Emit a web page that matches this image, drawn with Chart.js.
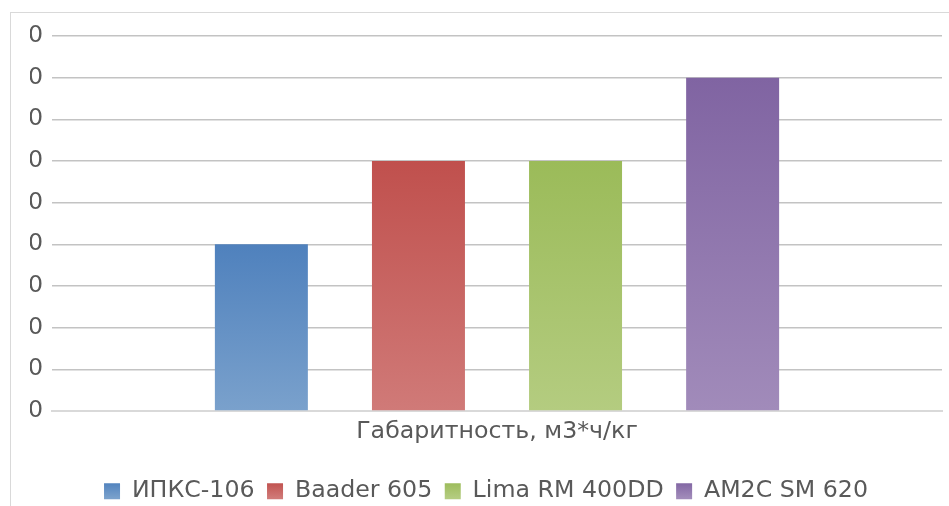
<!DOCTYPE html>
<html>
<head>
<meta charset="utf-8">
<script src="https://cdn.jsdelivr.net/npm/chart.js@4.4.1/dist/chart.umd.min.js"></script>
<style>
    html, body { margin: 0; padding: 0; background: #ffffff; overflow: hidden; }
    #wrap { position: relative; width: 949px; height: 506px; overflow: hidden; }
    #frame {
        position: absolute; left: 10px; top: 12px; width: 960px; height: 520px;
        border: 1.5px solid #d9d9d9; box-sizing: border-box;
    }
    canvas { position: absolute; left: 0; top: 0; }
</style>
</head>
<body>
<div id="wrap">
    <div id="frame"></div>
    <canvas id="chart" width="949" height="513"></canvas>
</div>
<script>
const categories = ['Габаритность, м3*ч/кг'];
const seriesNames = ['ИПКС-106', 'Baader 605', 'Lima RM 400DD', 'AM2C SM 620'];
const seriesValues = [[0.0004], [0.0006], [0.0006], [0.0008]];
const topColors = ['#4f81bd', '#c0504d', '#9bbb59', '#8064a2'];
const bottomColors = ['#7aa1cc', '#d07a78', '#b4cc80', '#a18bba'];

const fontSize = 23.7;

Chart.defaults.font.family = "'DejaVu Sans', sans-serif";
Chart.defaults.color = '#595959';

function barGradient(context, i) {
    const chart = context.chart;
    const area = chart.chartArea;
    if (!area) return topColors[i];
    const topY = chart.scales.y.getPixelForValue(context.raw);
    const g = chart.ctx.createLinearGradient(0, topY, 0, area.bottom);
    g.addColorStop(0, topColors[i]);
    g.addColorStop(1, bottomColors[i]);
    return g;
}

const ctx = document.getElementById('chart').getContext('2d');

new Chart(ctx, {
    type: 'bar',
    data: {
        labels: categories,
        datasets: seriesNames.map(function(name, i) {
            return {
                label: name,
                data: seriesValues[i],
                backgroundColor: function(c) { return barGradient(c, i); },
                borderWidth: 0,
                barPercentage: 0.592,
                categoryPercentage: 0.706
            };
        })
    },
    options: {
        responsive: false,
        animation: false,
        layout: { padding: { top: 36, right: 7, bottom: 0, left: 30 } },
        plugins: {
            tooltip: { enabled: false },
            legend: {
                position: 'bottom',
                labels: {
                    boxWidth: 16,
                    boxHeight: 16,
                    padding: 12.5,
                    color: '#595959',
                    font: { size: fontSize },
                    generateLabels: function(chart) {
                        return seriesNames.map(function(name, i) {
                            const g = chart.ctx.createLinearGradient(0, 482, 0, 498);
                            g.addColorStop(0, topColors[i]);
                            g.addColorStop(1, bottomColors[i]);
                            return {
                                text: name,
                                fillStyle: g,
                                strokeStyle: topColors[i],
                                lineWidth: 0,
                                datasetIndex: i,
                                fontColor: '#595959'
                            };
                        });
                    }
                }
            }
        },
        scales: {
            x: {
                grid: { display: false, drawTicks: false },
                border: { display: true, color: '#d9d9d9', width: 2 },
                ticks: { font: { size: fontSize }, color: '#595959', padding: 7 },
                afterFit: function(scale) { scale.height = 55.8; }
            },
            y: {
                min: 0,
                max: 0.0009,
                ticks: {
                    stepSize: 0.0001,
                    font: { size: fontSize },
                    color: '#595959',
                    padding: 9,
                    callback: function(v) { return Math.round(v).toString(); }
                },
                grid: { color: '#c3c3c3', lineWidth: 1.5, drawTicks: false },
                border: { display: false },
                afterFit: function(scale) { scale.width = 22; }
            }
        }
    }
});
</script>
</body>
</html>
